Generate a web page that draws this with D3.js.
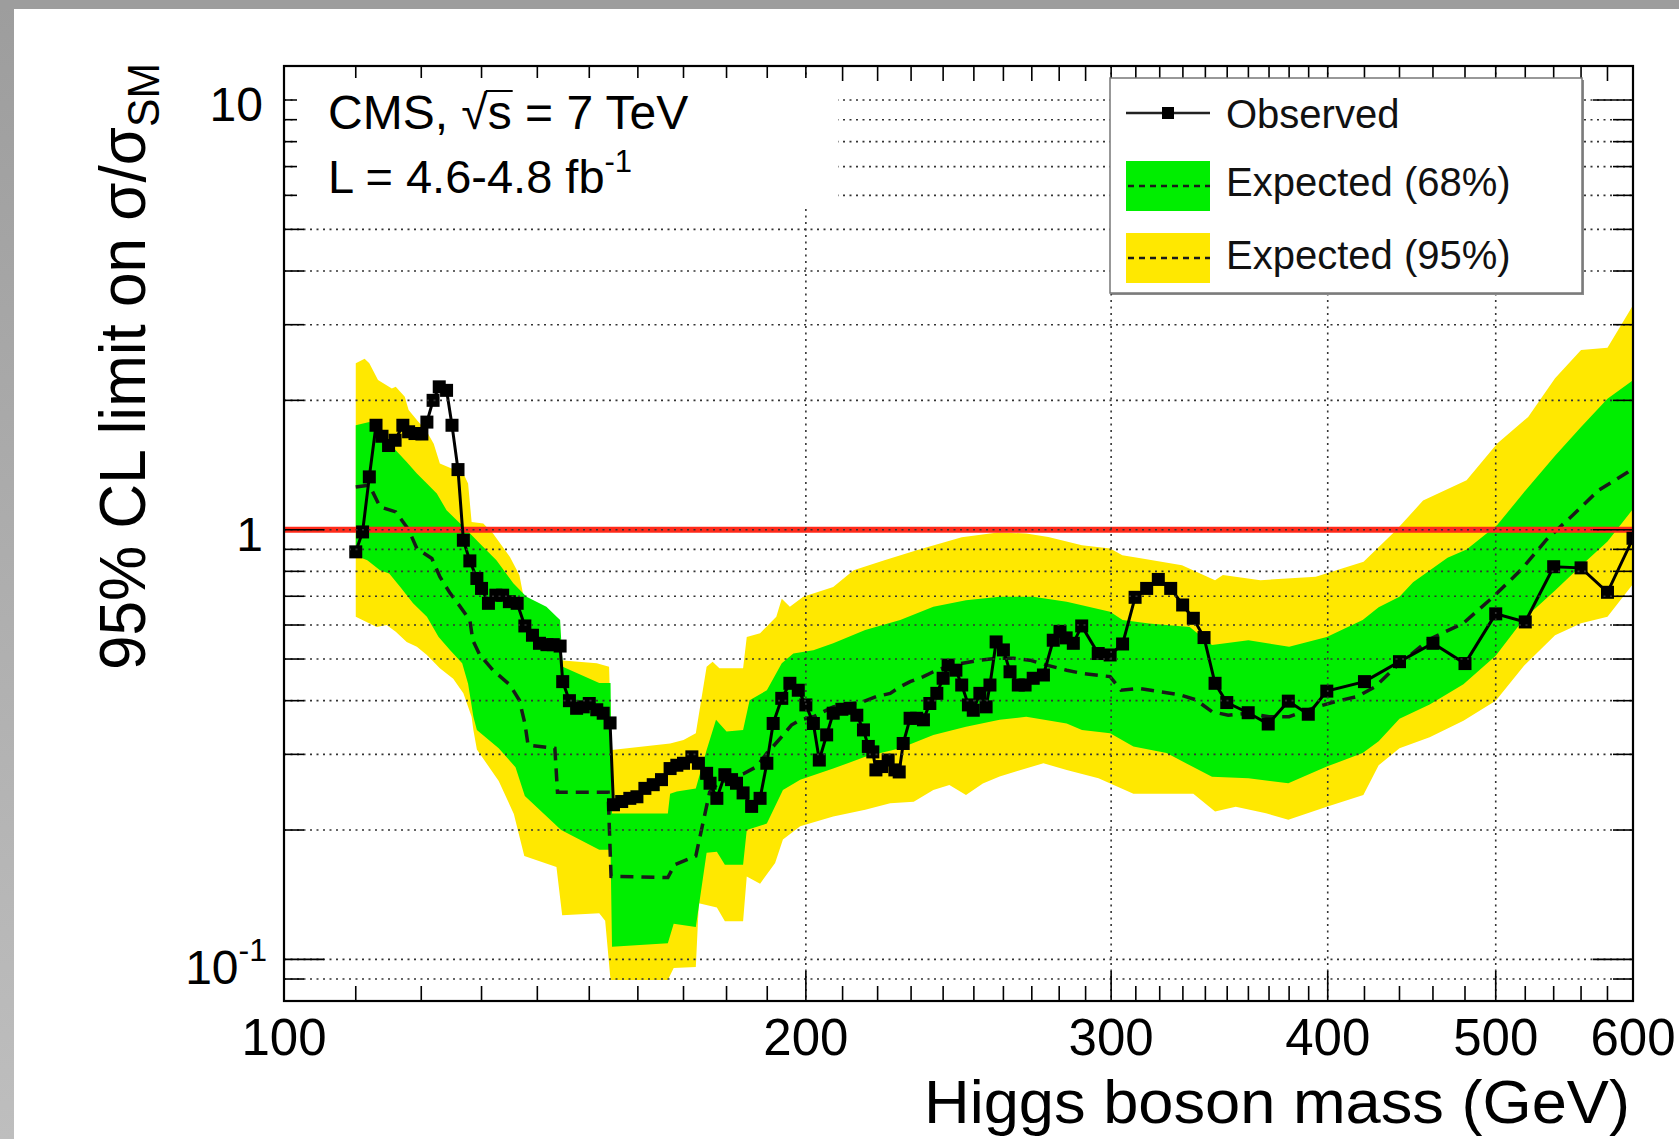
<!DOCTYPE html>
<html>
<head>
<meta charset="utf-8">
<script src="https://cdn.jsdelivr.net/npm/d3@7"></script>
<style>
html, body { margin: 0; padding: 0; background: #fff; }
svg { display: block; font-family: "Liberation Sans", Arial, Helvetica, sans-serif; }
</style>
</head>
<body>
<svg id="chart" width="1679" height="1139"></svg>
<script>
// ---- data (mass in GeV, limit in sigma/sigma_SM) ----
const obsMass = [110, 111, 112, 113, 113.9, 114.9, 115.9, 117.1, 118, 119, 120.1, 120.9, 121.9, 122.9, 124.1, 125, 126, 126.9, 128, 129.2,
  130, 131.2, 132.5, 133.7, 134.9, 136.3, 137.7, 139.1, 140.4, 141.8, 143, 144.3, 144.8, 146.1, 147.5, 148.8, 150, 151.5, 152.8, 154.2,
  154.9, 156.6, 158.3, 159.8, 161.5, 163.3, 165.1, 167, 168.5, 170, 171.9, 173.4, 175.3, 176.1, 177.7, 179.6, 181.2, 182.4, 184, 186.1,
  188.2, 189.9, 191.5, 193.7, 195.8, 198, 200, 202, 203.6, 205.6, 207.4, 209.8, 212.1, 214, 215.9, 217.3, 218.6, 219.5, 221.2, 223.1,
  225.1, 226.4, 227.6, 229.7, 231.7, 233.8, 235.8, 238, 240, 241.6, 244.1, 246, 248.2, 249.8, 252, 254.1, 255.4, 257.5, 260, 262.3,
  265.2, 267.6, 270.5, 274.2, 277.8, 280.3, 282.6, 285.3, 288.5, 294.9, 299.6, 304.6, 309.7, 314.5, 319.4, 324.7, 329.9, 334.6, 339.4, 344.4,
  349.8, 359.9, 369.6, 379.6, 389.8, 399.5, 420, 440, 460, 480, 500, 520, 540, 560, 580, 600];
const obsLimit = [0.888, 0.988, 1.327, 1.75, 1.65, 1.57, 1.615, 1.75, 1.69, 1.674, 1.67, 1.78, 2.0, 2.15, 2.11, 1.75, 1.38, 0.945, 0.846, 0.77,
  0.73, 0.674, 0.704, 0.704, 0.68, 0.674, 0.597, 0.568, 0.544, 0.54, 0.54, 0.536, 0.443, 0.40, 0.384, 0.387, 0.394, 0.381, 0.374, 0.355,
  0.229, 0.233, 0.237, 0.239, 0.25, 0.255, 0.262, 0.278, 0.283, 0.286, 0.296, 0.286, 0.271, 0.257, 0.237, 0.269, 0.262, 0.257, 0.244, 0.227,
  0.237, 0.286, 0.354, 0.405, 0.439, 0.423, 0.391, 0.354, 0.291, 0.333, 0.374, 0.382, 0.384, 0.370, 0.342, 0.313, 0.304, 0.276, 0.281, 0.291,
  0.276, 0.273, 0.318, 0.364, 0.364, 0.361, 0.394, 0.416, 0.451, 0.484, 0.471, 0.435, 0.391, 0.380, 0.416, 0.387, 0.435, 0.548, 0.525, 0.467,
  0.435, 0.435, 0.451, 0.459, 0.553, 0.58, 0.56, 0.544, 0.597, 0.515, 0.511, 0.542, 0.696, 0.730, 0.766, 0.730, 0.668, 0.622, 0.561, 0.439,
  0.396, 0.375, 0.353, 0.399, 0.372, 0.421, 0.443, 0.493, 0.544, 0.488, 0.637, 0.61, 0.82, 0.815, 0.715, 0.955];

const expMass = [110, 112, 113.6, 116, 118, 119.3, 121.7, 123, 124.7, 126.3, 128, 128.5, 129.7, 132, 135, 136.7, 137.7, 138.3, 143.3, 143.8, 153.8,
  154.4, 166.5, 168, 172.8, 176, 178, 184, 187.4, 189.9, 191.5, 193.7, 196.2, 198.5, 202, 207.4, 215.9, 219.7, 223.7, 226.7, 229.7,
  233.8, 236.9, 241, 246.3, 252, 257.8, 263.5, 269.3, 275.4, 282.8, 288.6, 299.6, 304, 311.6, 320, 328.5, 335.7, 343, 350.5, 360,
  370, 380, 392, 404, 416, 426, 438, 458, 479, 498.6, 517, 535, 554, 573, 596, 600];
const expMedian = [1.257, 1.27, 1.13, 1.10, 1.0, 0.904, 0.857, 0.777, 0.711, 0.664, 0.616, 0.553, 0.511, 0.471, 0.435, 0.401, 0.354, 0.315, 0.31, 0.245, 0.245,
  0.156, 0.155, 0.166, 0.174, 0.245, 0.257, 0.27, 0.281, 0.302, 0.313, 0.33, 0.351, 0.361, 0.367, 0.387, 0.398, 0.409, 0.416, 0.431, 0.443,
  0.455, 0.467, 0.48, 0.489, 0.497, 0.502, 0.502, 0.497, 0.484, 0.471, 0.463, 0.455, 0.423, 0.427, 0.42, 0.413, 0.402, 0.377, 0.37, 0.374,
  0.367, 0.367, 0.384, 0.398, 0.409, 0.431, 0.48, 0.556, 0.606, 0.699, 0.806, 0.949, 1.082, 1.234, 1.362, 1.39];

// 95% band edges
const yellowUpMass = [110, 111.3, 112, 113.3, 115.4, 116, 117.4, 118, 119.3, 120.9, 122, 123, 126.9, 127.7, 128.3, 130.3, 132, 135, 136.7, 137.7,
  139.8, 143.7, 144.3, 151.5, 154, 154.5, 167, 170, 172.8, 175.3, 176.7, 178.3, 184, 184.9, 188.2, 192.3, 193.7, 195.8, 199.3, 207.4,
  213.1, 222, 231.7, 246, 258, 268, 276, 288.6, 299.6, 304.5, 312.6, 329.6, 344.4, 348, 365.8, 393.7, 419.5, 438, 454, 481,
  501, 522, 541, 560, 580, 600];
const yellowUp = [2.44, 2.5, 2.44, 2.23, 2.13, 2.15, 2.04, 1.9, 1.8, 1.69, 1.586, 1.426, 1.351, 1.281, 1.042, 1.034, 0.98, 0.864, 0.784, 0.674,
  0.65, 0.616, 0.497, 0.489, 0.48, 0.307, 0.318, 0.324, 0.336, 0.48, 0.493, 0.476, 0.476, 0.563, 0.574, 0.627, 0.691, 0.662, 0.698, 0.736,
  0.805, 0.849, 0.896, 0.96, 0.985, 0.98, 0.962, 0.92, 0.904, 0.872, 0.857, 0.827, 0.763, 0.784, 0.763, 0.777, 0.842, 0.997, 1.169, 1.304,
  1.587, 1.829, 2.25, 2.62, 2.65, 3.33];
const yellowLoMass = [110, 113.1, 114.6, 116, 117.7, 119.3, 120.9, 123, 125.2, 126.9, 128.3, 128.6, 129.2, 133, 135.7, 137.6, 143.6, 144.7, 152, 153.2,
  154.3, 166.5, 167.8, 172.8, 173.5, 177.7, 179.6, 184, 184.9, 188.2, 192, 194, 198.5, 207.4, 216.4, 223.7, 230.8, 236.9, 242, 247.4,
  253, 258.7, 264.6, 274.2, 282.8, 295, 309, 334.6, 344.4, 354, 368.5, 379.6, 399.5, 419.4, 428, 440, 458, 479, 500, 519,
  541, 560, 580, 600];
const yellowLo = [0.627, 0.594, 0.6, 0.579, 0.548, 0.534, 0.511, 0.476, 0.45, 0.416, 0.367, 0.342, 0.308, 0.26, 0.218, 0.174, 0.164, 0.1266, 0.128, 0.123,
  0.0895, 0.0895, 0.0955, 0.096, 0.135, 0.132, 0.1226, 0.1226, 0.156, 0.150, 0.1675, 0.19, 0.204, 0.215, 0.223, 0.231, 0.2327, 0.2477, 0.2545, 0.2413,
  0.2566, 0.2663, 0.274, 0.286, 0.276, 0.264, 0.243, 0.243, 0.221, 0.2267, 0.2187, 0.2112, 0.2267, 0.2413, 0.283, 0.31, 0.329, 0.359, 0.4, 0.482,
  0.568, 0.606, 0.627, 0.747];

// 68% band edges
const greenUpMass = [110, 112, 114.2, 116, 117.7, 119.3, 120.9, 122.5, 124.1, 125.8, 127.5, 129.7, 132.6, 135.6, 138, 141.7, 144.3, 144.8, 152, 154.3,
  154.6, 166.5, 167, 168.5, 172.8, 175.3, 177.5, 180, 184, 185.6, 189.9, 193.7, 196.7, 202, 207.4, 216.4, 226.7, 236.9, 247.4, 258.7,
  270.5, 282.8, 288.6, 299.6, 304.6, 315.5, 333, 343, 360, 380, 399.5, 419, 428, 440, 448, 469, 481, 501, 519, 541,
  560, 580, 600];
const greenUp = [1.75, 1.78, 1.64, 1.53, 1.437, 1.351, 1.281, 1.214, 1.11, 1.052, 0.997, 0.929, 0.849, 0.75, 0.698, 0.662, 0.616, 0.48, 0.44, 0.44,
  0.2185, 0.2185, 0.243, 0.246, 0.25, 0.307, 0.361, 0.339, 0.342, 0.401, 0.423, 0.489, 0.515, 0.524, 0.544, 0.584, 0.616, 0.662, 0.685, 0.698,
  0.698, 0.68, 0.667, 0.644, 0.616, 0.605, 0.594, 0.539, 0.553, 0.534, 0.563, 0.616, 0.66, 0.698, 0.755, 0.86, 0.899, 1.025, 1.221, 1.486,
  1.733, 2.018, 2.226];
const greenLoMass = [110, 111.7, 113.6, 115, 116.7, 118.7, 120.9, 122.8, 124.7, 126.7, 127.7, 128.6, 129.2, 133, 136, 137.7, 144.5, 152, 154.3, 154.6,
  166.5, 167.8, 172.8, 175.3, 177.7, 179.6, 184, 184.9, 189.9, 194, 198.5, 207.4, 216.4, 226.7, 236.9, 247.4, 258.7, 268, 282.8, 288.6,
  299.6, 309, 322.9, 343, 360, 379.6, 399.5, 419, 428, 440, 458, 479, 500, 519, 541, 560, 580, 600];
const greenLo = [0.87, 0.849, 0.805, 0.791, 0.736, 0.674, 0.627, 0.563, 0.524, 0.489, 0.438, 0.367, 0.342, 0.31, 0.28, 0.24, 0.2, 0.18, 0.18, 0.107,
  0.109, 0.121, 0.119, 0.177, 0.178, 0.166, 0.166, 0.2, 0.207, 0.248, 0.262, 0.278, 0.296, 0.31, 0.333, 0.348, 0.361, 0.367, 0.354, 0.342,
  0.336, 0.313, 0.302, 0.266, 0.264, 0.257, 0.281, 0.302, 0.322, 0.363, 0.392, 0.437, 0.509, 0.62, 0.722, 0.824, 0.939, 1.118];

// axis ticks
const xLabelTicks = [100, 200, 300, 400, 500, 600];
const xGridTicks = [200, 300, 400, 500];
const xMinorTicks = [110, 120, 130, 140, 150, 160, 170, 180, 190, 210, 220, 230, 240, 250, 260, 270, 280, 290,
  310, 320, 330, 340, 350, 360, 370, 380, 390, 420, 440, 460, 480, 520, 540, 560, 580];
const yMajorTicks = [0.1, 1, 10];
const yMinorTicks = [0.09, 0.2, 0.3, 0.4, 0.5, 0.6, 0.7, 0.8, 0.9, 2, 3, 4, 5, 6, 7, 8, 9];

// ---- layout ----
const W = 1679, H = 1139;
const plot = { left: 284, right: 1633, top: 66, bottom: 1001 };

const svg = d3.select("#chart");

const x = d3.scaleLog().domain([100, 600]).range([plot.left, plot.right]);
const y = d3.scaleLog().domain([0.08, 12]).range([plot.bottom, plot.top]);

// grey page edges
const defs = svg.append("defs");
const grad = defs.append("linearGradient").attr("id", "sideGrad")
  .attr("x1", 0).attr("y1", 0).attr("x2", 0).attr("y2", 1);
grad.append("stop").attr("offset", "0%").attr("stop-color", "#9d9d9d");
grad.append("stop").attr("offset", "100%").attr("stop-color", "#bebebe");
svg.append("rect").attr("x", 0).attr("y", 0).attr("width", 14).attr("height", H).attr("fill", "url(#sideGrad)");
svg.append("rect").attr("x", 0).attr("y", 0).attr("width", W).attr("height", 9).attr("fill", "#9d9d9d");

defs.append("clipPath").attr("id", "plotClip")
  .append("rect").attr("x", plot.left).attr("y", plot.top)
  .attr("width", plot.right - plot.left).attr("height", plot.bottom - plot.top);

const zip = (ms, vs) => ms.map((m, i) => [m, vs[i]]);
const line = d3.line().x(d => x(d[0])).y(d => y(d[1]));

function bandPath(upM, upV, loM, loV) {
  const pts = zip(upM, upV).concat(zip(loM, loV).reverse());
  return line(pts) + "Z";
}

const dataG = svg.append("g").attr("clip-path", "url(#plotClip)");

dataG.append("path")
  .attr("d", bandPath(yellowUpMass, yellowUp, yellowLoMass, yellowLo))
  .attr("fill", "#ffe800");
dataG.append("path")
  .attr("d", bandPath(greenUpMass, greenUp, greenLoMass, greenLo))
  .attr("fill", "#00ee00");

// dotted grid
const gridG = svg.append("g")
  .attr("stroke", "#333").attr("stroke-width", 1.6).attr("stroke-dasharray", "2,4.5");
gridG.selectAll("line.h").data(yMajorTicks.concat(yMinorTicks)).enter().append("line")
  .attr("x1", plot.left).attr("x2", plot.right)
  .attr("y1", d => y(d)).attr("y2", d => y(d));
gridG.selectAll("line.v").data(xGridTicks).enter().append("line")
  .attr("x1", d => x(d)).attr("x2", d => x(d))
  .attr("y1", plot.top).attr("y2", plot.bottom);

// expected median
dataG.append("path")
  .attr("d", line(zip(expMass, expMedian)))
  .attr("fill", "none").attr("stroke", "#1a1a1a").attr("stroke-width", 3.5)
  .attr("stroke-dasharray", "13,8");

// SM line
dataG.append("line")
  .attr("x1", plot.left).attr("x2", plot.right)
  .attr("y1", y(1)).attr("y2", y(1))
  .attr("stroke", "#ff2a1a").attr("stroke-width", 6);

// observed
const obs = zip(obsMass, obsLimit);
dataG.append("path")
  .attr("d", line(obs))
  .attr("fill", "none").attr("stroke", "#000").attr("stroke-width", 3);
dataG.selectAll("rect.obs").data(obs).enter().append("rect")
  .attr("x", d => x(d[0]) - 6.5).attr("y", d => y(d[1]) - 6.5)
  .attr("width", 13).attr("height", 13).attr("fill", "#000");

// ticks on all four sides
const tickG = svg.append("g").attr("stroke", "#000").attr("stroke-width", 1.6);
const yTicks = yMajorTicks.map(v => ({ v, len: 40 })).concat(yMinorTicks.map(v => ({ v, len: 20 })));
tickG.selectAll("line.yl").data(yTicks).enter().append("line")
  .attr("x1", plot.left).attr("x2", d => plot.left + d.len)
  .attr("y1", d => y(d.v)).attr("y2", d => y(d.v));
tickG.selectAll("line.yr").data(yTicks).enter().append("line")
  .attr("x1", plot.right).attr("x2", d => plot.right - d.len)
  .attr("y1", d => y(d.v)).attr("y2", d => y(d.v));
const xTicks = xGridTicks.map(v => ({ v, len: 30 })).concat(xMinorTicks.map(v => ({ v, len: 15 })));
tickG.selectAll("line.xb").data(xTicks).enter().append("line")
  .attr("x1", d => x(d.v)).attr("x2", d => x(d.v))
  .attr("y1", plot.bottom).attr("y2", d => plot.bottom - d.len);
tickG.selectAll("line.xt").data(xTicks).enter().append("line")
  .attr("x1", d => x(d.v)).attr("x2", d => x(d.v))
  .attr("y1", plot.top).attr("y2", d => plot.top + d.len);

// frame
svg.append("rect")
  .attr("x", plot.left).attr("y", plot.top)
  .attr("width", plot.right - plot.left).attr("height", plot.bottom - plot.top)
  .attr("fill", "none").attr("stroke", "#000").attr("stroke-width", 2.2);

// tick labels
svg.append("g").attr("font-size", 51).attr("text-anchor", "middle").attr("fill", "#000")
  .selectAll("text").data(xLabelTicks).enter().append("text")
  .attr("x", d => x(d)).attr("y", 1055).text(d => d);

const yLab = svg.append("g").attr("font-size", 48).attr("text-anchor", "end").attr("fill", "#000");
yMajorTicks.forEach(v => {
  const e = Math.round(Math.log10(v));
  if (e === 0 || e === 1) {
    yLab.append("text").attr("x", 263).attr("y", y(v) + 21).text(v);
  } else {
    const t = yLab.append("text").attr("x", 267).attr("y", y(v) + 25);
    t.append("tspan").text("10");
    t.append("tspan").attr("font-size", 32).attr("dy", -23).text(e);
  }
});

// axis titles
svg.append("text")
  .attr("x", 1630).attr("y", 1123).attr("text-anchor", "end")
  .attr("font-size", 62).attr("textLength", 706).attr("lengthAdjust", "spacingAndGlyphs")
  .text("Higgs boson mass (GeV)");

const yTitle = svg.append("text")
  .attr("transform", "translate(145,63) rotate(-90)")
  .attr("text-anchor", "end").attr("font-size", 64)
  .attr("textLength", 607).attr("lengthAdjust", "spacingAndGlyphs");
yTitle.append("tspan").text("95% CL limit on \u03C3/\u03C3");
yTitle.append("tspan").attr("font-size", 44).attr("dy", 14).text("SM");

// CMS label box
svg.append("rect").attr("x", 297).attr("y", 78).attr("width", 541).attr("height", 131).attr("fill", "#fff");
const cms = svg.append("text").attr("x", 328).attr("y", 129).attr("font-size", 48);
cms.append("tspan").text("CMS, ");
cms.append("tspan").text("\u221A");
cms.append("tspan").text("s");
cms.append("tspan").text(" = 7 TeV");
{
  const node = cms.node();
  const r = node.getExtentOfChar(5), s = node.getExtentOfChar(6);
  svg.append("line")
    .attr("x1", r.x + r.width - 2).attr("x2", s.x + s.width + 1)
    .attr("y1", 91).attr("y2", 91)
    .attr("stroke", "#000").attr("stroke-width", 2);
}
const lumi = svg.append("text").attr("x", 328).attr("y", 193).attr("font-size", 47);
lumi.append("tspan").text("L = 4.6-4.8 fb");
lumi.append("tspan").attr("font-size", 31).attr("dy", -21).text("-1");

// legend
const lg = svg.append("g");
lg.append("rect").attr("x", 1112).attr("y", 80).attr("width", 472).attr("height", 215).attr("fill", "#8a8a8a");
lg.append("rect").attr("x", 1110).attr("y", 78).attr("width", 472).attr("height", 215)
  .attr("fill", "#fff").attr("stroke", "#777").attr("stroke-width", 1.5);

lg.append("line").attr("x1", 1126).attr("x2", 1210).attr("y1", 113).attr("y2", 113)
  .attr("stroke", "#222").attr("stroke-width", 2.5);
lg.append("rect").attr("x", 1162).attr("y", 107).attr("width", 12).attr("height", 12).attr("fill", "#000");

lg.append("rect").attr("x", 1126).attr("y", 161).attr("width", 84).attr("height", 50).attr("fill", "#00ee00");
lg.append("rect").attr("x", 1126).attr("y", 233).attr("width", 84).attr("height", 50).attr("fill", "#ffe800");
[186, 258].forEach(yy => {
  lg.append("line").attr("x1", 1128).attr("x2", 1210).attr("y1", yy).attr("y2", yy)
    .attr("stroke", "#1a1a1a").attr("stroke-width", 2.5).attr("stroke-dasharray", "6,5");
});

const legendText = ["Observed", "Expected (68%)", "Expected (95%)"];
const legendBase = [128, 196, 269];
lg.selectAll("text").data(legendText).enter().append("text")
  .attr("x", 1226).attr("y", (d, i) => legendBase[i])
  .attr("font-size", 40).attr("fill", "#111")
  .text(d => d);
</script>
</body>
</html>
